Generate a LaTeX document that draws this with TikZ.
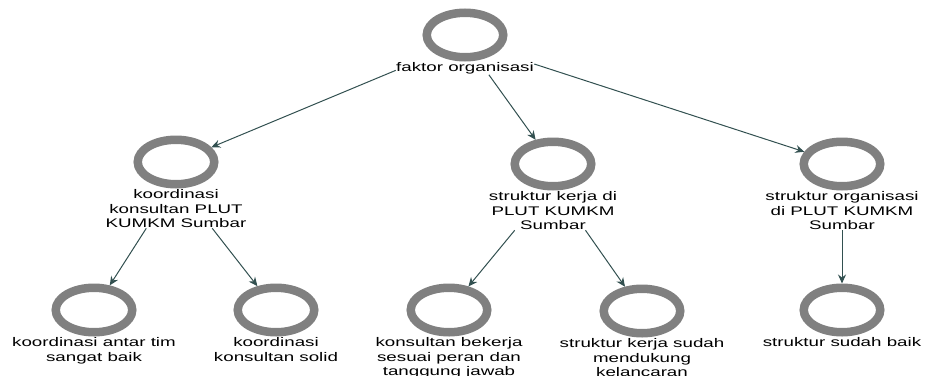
\documentclass[tikz,border=0pt]{standalone}
\usepackage{fontspec}
\setmainfont{Liberation Sans}
\usetikzlibrary{
    arrows.meta,  % arrow tips
    positioning,  % relative placement of the labels
    shapes.geometric,  % ellipse rings
    fit,  % boxes round ring and label
}
\definecolor{ringgray}{RGB}{128,128,128}
\definecolor{arrowteal}{RGB}{50,80,80}
\tikzset{
    ring/.style={ellipse, draw=ringgray, line width=8.5pt, minimum width=76.5pt, minimum height=44.5pt, inner sep=0pt},
    lbl/.style={align=center, inner sep=0pt, xscale=1.5, font=\fontsize{12.5}{14.5}\selectfont},
    grp/.style={inner sep=0pt},
    arr/.style={draw=arrowteal, line width=1pt, -{Stealth[length=9pt, width=8pt, inset=3pt]}},
}

\begin{document}
\begin{tikzpicture}[x=1pt, y=-1pt]
    \useasboundingbox (0, 0) rectangle (926, 375);

    \node[ring] (fo) at (465, 35) {};
    \node[ring] (ko) at (176, 162) {};
    \node[ring] (sk) at (553, 164) {};
    \node[ring] (so) at (842, 164) {};
    \node[ring] (k1) at (94, 310) {};
    \node[ring] (k2) at (276, 310) {};
    \node[ring] (s1) at (449, 310) {};
    \node[ring] (s2) at (642, 311) {};
    \node[ring] (s3) at (842, 310) {};

    \node[lbl, below=1pt of fo] (fo-t) {faktor organisasi};
    \node[lbl, below=1pt of ko] (ko-t) {koordinasi\\konsultan PLUT\\KUMKM Sumbar};
    \node[lbl, below=1pt of sk] (sk-t) {struktur kerja di\\PLUT KUMKM\\Sumbar};
    \node[lbl, below=1pt of so] (so-t) {struktur organisasi\\di PLUT KUMKM\\Sumbar};
    \node[lbl, below=1pt of k1] (k1-t) {koordinasi antar tim\\sangat baik};
    \node[lbl, below=1pt of k2] (k2-t) {koordinasi\\konsultan solid};
    \node[lbl, below=1pt of s1] (s1-t) {konsultan bekerja\\sesuai peran dan\\tanggung jawab};
    \node[lbl, below=1pt of s2] (s2-t) {struktur kerja sudah\\mendukung\\kelancaran};
    \node[lbl, below=1pt of s3] (s3-t) {struktur sudah baik};

    \node[grp, fit=(fo)(fo-t)] (fo-g) {};
    \node[grp, fit=(ko)(ko-t)] (ko-g) {};
    \node[grp, fit=(sk)(sk-t)] (sk-g) {};
    \node[grp, fit=(so)(so-t)] (so-g) {};

    \draw[arr] (fo-g) -- (ko);
    \draw[arr] (fo-g) -- (sk);
    \draw[arr] (fo-g) -- (so);
    \draw[arr] (ko-g) -- (k1);
    \draw[arr] (ko-g) -- (k2);
    \draw[arr] (sk-g) -- (s1);
    \draw[arr] (sk-g) -- (s2);
    \draw[arr] (so-g) -- (s3);
\end{tikzpicture}
\end{document}
